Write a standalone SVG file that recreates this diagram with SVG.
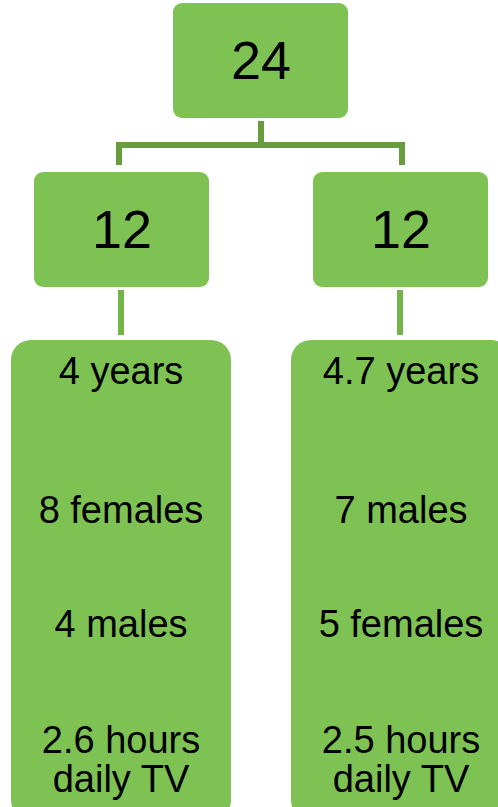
<svg xmlns="http://www.w3.org/2000/svg" width="498" height="807" viewBox="0 0 498 807">
<style>
.box{fill:#7dc253}
.big{font-family:"Liberation Sans",Arial,sans-serif;font-size:54px;fill:#000;text-anchor:middle}
.t{font-family:"Liberation Sans",Arial,sans-serif;font-size:38px;fill:#000;text-anchor:middle}
.c1{stroke:#679d3d;stroke-width:6;fill:none}
.c2{stroke:#74b548;stroke-width:6;fill:none}
</style>
<rect width="498" height="807" fill="#fff"/>
<g id="connectors">
<path class="c1" d="M261 121V145M119 165V145H402V165"/>
<path class="c2" d="M121 290V335"/>
<path class="c2" d="M400 290V335"/>
</g>
<g id="root">
<rect class="box" x="173" y="3" width="175" height="115" rx="9"/>
<text class="big" x="261" y="79">24</text>
</g>
<g id="left-mid">
<rect class="box" x="34" y="172" width="175" height="115" rx="9"/>
<text class="big" x="122" y="248">12</text>
</g>
<g id="right-mid">
<rect class="box" x="313" y="172" width="175" height="115" rx="9"/>
<text class="big" x="401" y="248">12</text>
</g>
<g id="left-detail">
<rect class="box" x="11" y="340" width="220" height="480" rx="20"/>
<text class="t" x="121" y="384">4 years</text>
<text class="t" x="121" y="523">8 females</text>
<text class="t" x="121" y="637">4 males</text>
<text class="t" x="121" y="753">2.6 hours</text>
<text class="t" x="121" y="792">daily TV</text>
</g>
<g id="right-detail">
<rect class="box" x="291" y="340" width="220" height="480" rx="20"/>
<text class="t" x="401" y="384">4.7 years</text>
<text class="t" x="401" y="523">7 males</text>
<text class="t" x="401" y="637">5 females</text>
<text class="t" x="401" y="753">2.5 hours</text>
<text class="t" x="401" y="792">daily TV</text>
</g>
</svg>
